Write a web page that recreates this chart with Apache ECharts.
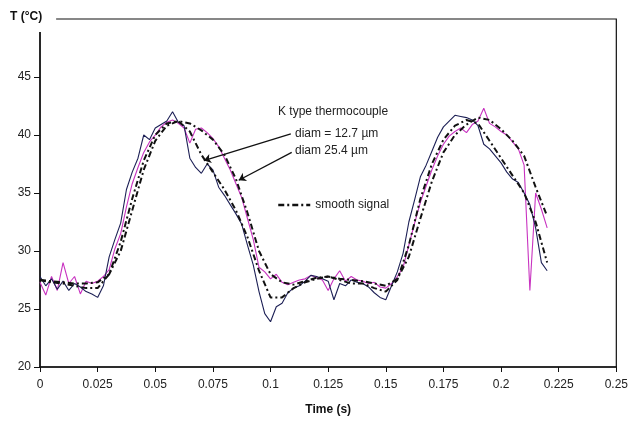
<!DOCTYPE html>
<html>
<head>
<meta charset="utf-8">
<script src="https://cdn.jsdelivr.net/npm/echarts@6/dist/echarts.min.js"></script>
<style>
  html, body { margin: 0; padding: 0; background: #fff; }
  #chart { width: 631px; height: 423px; }
</style>
</head>
<body>
<div id="chart"></div>
<script>
// sample steps (s)
var rawStep = 0.0025;
var smoothStep = 0.005;

// thermocouple diam 12.7 um (navy, raw)
var d127 = [27.8, 27.0, 27.6, 26.7, 27.4, 26.6, 27.2, 26.9, 26.5, 26.3,
    26.0, 27.0, 29.5, 31.0, 32.4, 35.3, 36.8, 38.0, 40.0, 39.6,
    40.6, 40.9, 41.2, 42.0, 41.1, 40.8, 38.0, 37.2, 36.7, 37.5,
    37.0, 35.5, 34.8, 34.0, 33.2, 32.3, 30.5, 28.8, 26.5, 24.6,
    23.9, 25.2, 25.5, 26.4, 26.8, 27.0, 27.4, 27.9, 27.8, 27.6,
    27.4, 25.8, 27.2, 27.0, 27.5, 27.3, 27.2, 26.9, 26.4, 26.0,
    25.8, 27.0, 28.2, 29.8, 32.5, 34.4, 36.4, 37.4, 38.6, 39.8,
    40.7, 41.2, 41.7, 41.6, 41.5, 41.3, 40.8, 39.2, 38.8, 38.2,
    37.6, 36.8, 36.2, 35.9, 35.0, 34.0, 32.0, 29.0, 28.3];

// thermocouple diam 25.4 um (magenta, raw)
var d254 = [27.3, 26.2, 27.8, 26.6, 29.0, 27.2, 27.8, 26.3, 27.4, 27.2,
    27.4, 27.8, 28.4, 30.2, 31.5, 33.8, 35.8, 37.2, 38.5, 39.4,
    40.0, 40.7, 41.1, 41.3, 41.0, 40.6, 39.3, 40.5, 40.6, 40.2,
    39.7, 39.0, 38.0, 37.0, 35.8, 34.6, 32.8, 31.0, 28.6, 28.2,
    27.6, 28.0, 27.3, 27.1, 27.3, 27.5, 27.6, 27.9, 27.7, 27.5,
    26.6, 27.6, 28.3, 27.4, 27.8, 27.5, 27.4, 27.2, 27.3, 26.9,
    26.8, 27.2, 27.8, 28.6, 30.5, 32.4, 34.2, 35.6, 37.0, 38.2,
    39.2, 39.9, 40.3, 40.6, 40.2, 40.9, 41.2, 42.3, 41.0, 40.7,
    40.3, 40.0, 39.4, 38.8, 37.4, 26.6, 35.0, 33.6, 32.0];

// smooth signals
var smooth127 = [27.5, 27.3, 27.2, 27.0, 26.8, 26.8, 28.0, 30.8, 34.5, 37.8,
    40.0, 41.0, 41.2, 40.3, 38.3, 36.8, 35.3, 33.5, 31.2, 28.3,
    26.0, 26.0, 26.8, 27.3, 27.6, 27.8, 27.5, 27.2, 27.2, 26.8,
    26.5, 27.5, 30.5, 34.5, 37.5, 39.6, 40.8, 41.3, 41.0, 39.5,
    38.0, 36.5, 35.0, 32.5, 29.0];
var smooth254 = [27.5, 27.4, 27.3, 27.2, 27.2, 27.3, 28.0, 30.0, 33.5, 37.0,
    39.5, 40.8, 41.2, 41.0, 40.4, 39.6, 38.3, 36.2, 33.3, 30.0,
    28.0, 27.3, 27.1, 27.4, 27.7, 27.8, 27.6, 27.5, 27.4, 27.2,
    27.0, 27.6, 29.5, 32.8, 36.0, 38.5, 40.0, 40.9, 41.5, 41.3,
    40.5, 39.5, 38.2, 35.5, 33.0];

// annotation arrows [time, T]
var arrow127 = [[0.1088, 40.1], [0.0711, 37.8]];
var arrow254 = [[0.1092, 38.5], [0.0862, 36.1]];

function pairs(arr, step) {
    return arr.map(function (v, i) { return [+(i * step).toFixed(4), v]; });
}

var chart = echarts.init(document.getElementById('chart'));
var font = 'Liberation Sans, Arial, sans-serif';

var arrowLine = function (pts) {
    return {
        silent: true,
        symbol: ['none', 'arrow'],
        symbolSize: 7,
        label: { show: false },
        lineStyle: { color: '#111', width: 1.3, type: 'solid' },
        data: [[{ coord: pts[0] }, { coord: pts[1] }]]
    };
};

var option = {
    animation: false,
    backgroundColor: '#fff',
    textStyle: { fontFamily: font },
    title: {
        text: 'T (°C)',
        left: 8,
        top: 9,
        padding: [2, 14, 9, 2],
        backgroundColor: '#fff',
        textStyle: { fontFamily: font, fontSize: 12, fontWeight: 'bold', color: '#111' }
    },
    legend: {
        left: 272,
        top: 194,
        itemWidth: 32,
        itemHeight: 10,
        itemGap: 6,
        data: ['smooth signal'],
        itemStyle: { opacity: 0 },
        lineStyle: { color: '#111', width: 2.5, type: [6, 3, 2, 3] },
        textStyle: { fontFamily: font, fontSize: 12, color: '#222' }
    },
    grid: {
        left: 40, right: 14, top: 19, bottom: 56,
        show: true,
        borderColor: '#111',
        borderWidth: 1.2
    },
    xAxis: {
        type: 'value',
        min: 0, max: 0.25, interval: 0.025,
        name: 'Time (s)',
        nameLocation: 'middle',
        nameGap: 37,
        nameTextStyle: { fontFamily: font, fontSize: 12, fontWeight: 'bold', color: '#111' },
        axisLine: { lineStyle: { color: '#111', width: 1.5 } },
        axisTick: { show: true, length: 5, lineStyle: { color: '#111' } },
        axisLabel: { fontFamily: font, fontSize: 12, color: '#222', margin: 12 },
        splitLine: { show: false }
    },
    yAxis: {
        type: 'value',
        min: 20, max: 50, interval: 5,
        axisLine: { show: true, lineStyle: { color: '#111', width: 1.5 } },
        axisTick: { show: true, length: 6, lineStyle: { color: '#111' } },
        axisLabel: {
            fontFamily: font, fontSize: 12, color: '#222', margin: 9,
            formatter: function (v) { return v >= 50 ? '' : v; }
        },
        splitLine: { show: false }
    },
    graphic: [
        { type: 'text', left: 278, top: 106, style: { text: 'K type thermocouple', font: '12px ' + font, fill: '#222' } },
        { type: 'text', left: 295, top: 128, style: { text: 'diam = 12.7 µm', font: '12px ' + font, fill: '#222' } },
        { type: 'text', left: 295, top: 145, style: { text: 'diam 25.4 µm', font: '12px ' + font, fill: '#222' } }
    ],
    series: [
        {
            name: 'diam = 12.7 µm',
            type: 'line',
            data: pairs(d127, rawStep),
            symbol: 'none',
            lineStyle: { color: '#1c1f55', width: 1.1 },
            itemStyle: { color: '#1c1f55' },
            markLine: arrowLine(arrow127),
            z: 3
        },
        {
            name: 'diam 25.4 µm',
            type: 'line',
            data: pairs(d254, rawStep),
            symbol: 'none',
            lineStyle: { color: '#c832c0', width: 1.1 },
            itemStyle: { color: '#c832c0' },
            markLine: arrowLine(arrow254),
            z: 2
        },
        {
            name: 'smooth signal',
            type: 'line',
            data: pairs(smooth127, smoothStep),
            symbol: 'none',
            lineStyle: { color: '#111', width: 2, type: [6, 3, 2, 3] },
            itemStyle: { color: '#111' },
            z: 4
        },
        {
            name: 'smooth signal',
            type: 'line',
            data: pairs(smooth254, smoothStep),
            symbol: 'none',
            lineStyle: { color: '#111', width: 2, type: [6, 3, 2, 3] },
            itemStyle: { color: '#111' },
            z: 4
        }
    ]
};

chart.setOption(option);
</script>
</body>
</html>
